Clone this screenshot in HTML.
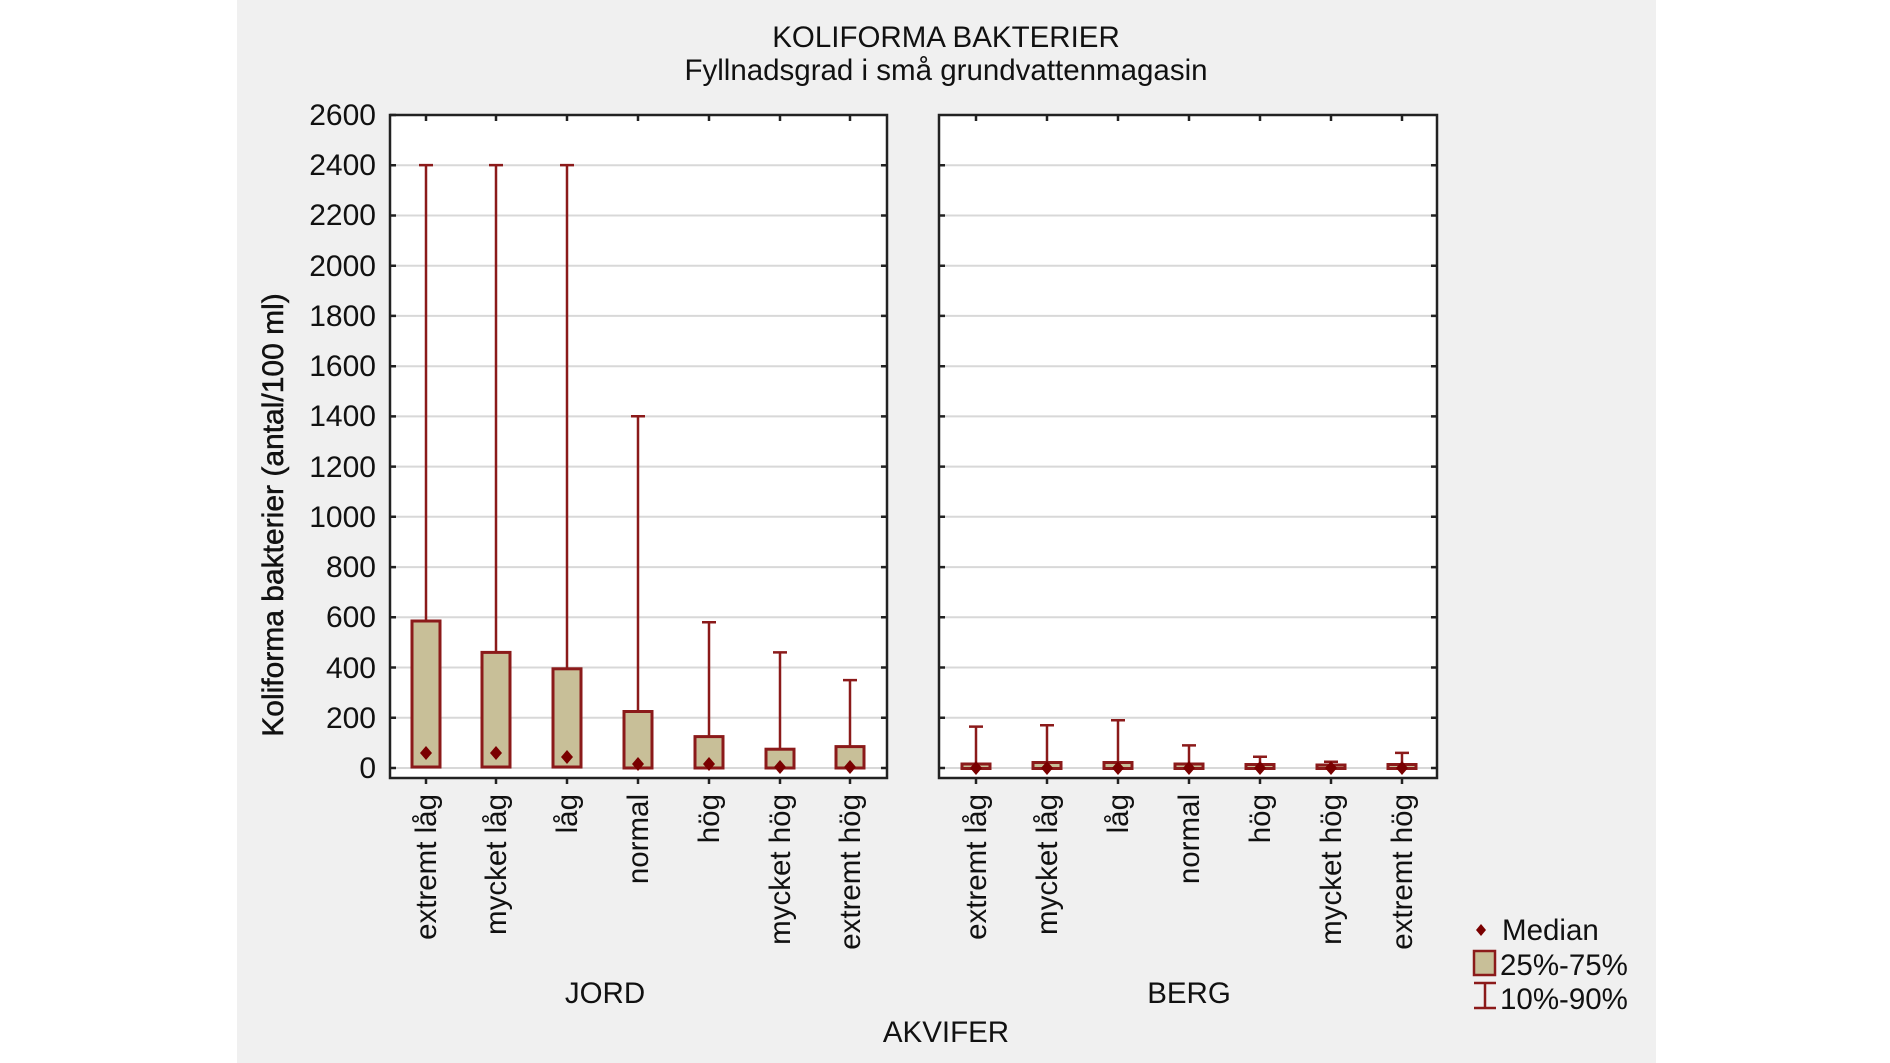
<!DOCTYPE html>
<html><head><meta charset="utf-8"><style>
html,body{margin:0;padding:0;background:#fff;}
svg{display:block;font-family:"Liberation Sans",sans-serif;}
</style></head><body>
<svg width="1890" height="1063" viewBox="0 0 1890 1063" xmlns="http://www.w3.org/2000/svg">
<rect x="0" y="0" width="1890" height="1063" fill="#fff"/>
<rect x="237" y="0" width="1419" height="1063" fill="#f0f0f0"/>
<text x="946" y="47" font-size="29.5" text-anchor="middle" fill="#111">KOLIFORMA BAKTERIER</text>
<text x="946" y="80" font-size="29.5" text-anchor="middle" fill="#111">Fyllnadsgrad i små grundvattenmagasin</text>
<rect x="390" y="115" width="497" height="663" fill="#fff"/>
<rect x="939" y="115" width="498" height="663" fill="#fff"/>
<g stroke="#d8d8d8" stroke-width="2">
<line x1="390" x2="887" y1="768" y2="768"/><line x1="939" x2="1437" y1="768" y2="768"/>
<line x1="390" x2="887" y1="717.8" y2="717.8"/><line x1="939" x2="1437" y1="717.8" y2="717.8"/>
<line x1="390" x2="887" y1="667.5" y2="667.5"/><line x1="939" x2="1437" y1="667.5" y2="667.5"/>
<line x1="390" x2="887" y1="617.3" y2="617.3"/><line x1="939" x2="1437" y1="617.3" y2="617.3"/>
<line x1="390" x2="887" y1="567.1" y2="567.1"/><line x1="939" x2="1437" y1="567.1" y2="567.1"/>
<line x1="390" x2="887" y1="516.8" y2="516.8"/><line x1="939" x2="1437" y1="516.8" y2="516.8"/>
<line x1="390" x2="887" y1="466.6" y2="466.6"/><line x1="939" x2="1437" y1="466.6" y2="466.6"/>
<line x1="390" x2="887" y1="416.4" y2="416.4"/><line x1="939" x2="1437" y1="416.4" y2="416.4"/>
<line x1="390" x2="887" y1="366.2" y2="366.2"/><line x1="939" x2="1437" y1="366.2" y2="366.2"/>
<line x1="390" x2="887" y1="315.9" y2="315.9"/><line x1="939" x2="1437" y1="315.9" y2="315.9"/>
<line x1="390" x2="887" y1="265.7" y2="265.7"/><line x1="939" x2="1437" y1="265.7" y2="265.7"/>
<line x1="390" x2="887" y1="215.5" y2="215.5"/><line x1="939" x2="1437" y1="215.5" y2="215.5"/>
<line x1="390" x2="887" y1="165.2" y2="165.2"/><line x1="939" x2="1437" y1="165.2" y2="165.2"/>
</g>
<g stroke="#222" stroke-width="2.5" fill="none">
<rect x="390" y="115" width="497" height="663"/>
<rect x="939" y="115" width="498" height="663"/>
</g>
<g stroke="#222" stroke-width="2.5">
<path d="M390 768h6M390 717.8h6M390 667.5h6M390 617.3h6M390 567.1h6M390 516.8h6M390 466.6h6M390 416.4h6M390 366.2h6M390 315.9h6M390 265.7h6M390 215.5h6M390 165.2h6M390 115h6"/>
<path d="M887 768h-6M887 717.8h-6M887 667.5h-6M887 617.3h-6M887 567.1h-6M887 516.8h-6M887 466.6h-6M887 416.4h-6M887 366.2h-6M887 315.9h-6M887 265.7h-6M887 215.5h-6M887 165.2h-6"/>
<path d="M939 768h6M939 717.8h6M939 667.5h6M939 617.3h6M939 567.1h6M939 516.8h6M939 466.6h6M939 416.4h6M939 366.2h6M939 315.9h6M939 265.7h6M939 215.5h6M939 165.2h6"/>
<path d="M1437 768h-6M1437 717.8h-6M1437 667.5h-6M1437 617.3h-6M1437 567.1h-6M1437 516.8h-6M1437 466.6h-6M1437 416.4h-6M1437 366.2h-6M1437 315.9h-6M1437 265.7h-6M1437 215.5h-6M1437 165.2h-6"/>
<path d="M426 778v6M496 778v6M567 778v6M638 778v6M709 778v6M780 778v6M850 778v6M976 778v6M1047 778v6M1118 778v6M1189 778v6M1260 778v6M1331 778v6M1402 778v6"/>
<path d="M426 115v6M496 115v6M567 115v6M638 115v6M709 115v6M780 115v6M850 115v6M976 115v6M1047 115v6M1118 115v6M1189 115v6M1260 115v6M1331 115v6M1402 115v6"/>
</g>
<g font-size="30" text-anchor="end" fill="#111">
<text x="376" y="778">0</text><text x="376" y="728">200</text><text x="376" y="678">400</text><text x="376" y="627">600</text><text x="376" y="577">800</text><text x="376" y="527">1000</text><text x="376" y="477">1200</text><text x="376" y="426">1400</text><text x="376" y="376">1600</text><text x="376" y="326">1800</text><text x="376" y="276">2000</text><text x="376" y="225">2200</text><text x="376" y="175">2400</text><text x="376" y="125">2600</text>
</g>
<text transform="translate(283,515) rotate(-90)" font-size="30" text-anchor="middle" fill="#111" stroke="#111" stroke-width="0.5">Koliforma bakterier (antal/100 ml)</text>
<g stroke="#8b1a1a" stroke-width="2.5" fill="none">
<path d="M426 165.1V768M419 165.1h14M496 165.1V768M489 165.1h14M567 165.1V768M560 165.1h14M638 416.3V768M631 416.3h14M709 622.3V768M702 622.3h14M780 652.4V768M773 652.4h14M850 680.1V768M843 680.1h14"/>
<path d="M976 726.6V768M969 726.6h14M1047 725.3V768M1040 725.3h14M1118 720.3V768M1111 720.3h14M1189 745.4V768M1182 745.4h14M1260 756.7V768M1253 756.7h14M1331 761.7V768M1324 761.7h14M1402 752.9V768M1395 752.9h14"/>
</g>
<g fill="#c8bf98" stroke="#8b1a1a" stroke-width="3">
<rect x="412" y="621" width="28" height="146"/>
<rect x="482" y="652.4" width="28" height="114.6"/>
<rect x="553" y="668.8" width="28" height="98.2"/>
<rect x="624" y="711.5" width="28" height="56.5"/>
<rect x="695" y="736.6" width="28" height="31.4"/>
<rect x="766" y="749.2" width="28" height="18.8"/>
<rect x="836" y="746.6" width="28" height="21.4"/>
<rect x="962" y="764" width="28" height="4.5"/>
<rect x="1033" y="762.5" width="28" height="6"/>
<rect x="1104" y="762.5" width="28" height="6"/>
<rect x="1175" y="764" width="28" height="4.5"/>
<rect x="1246" y="764.5" width="28" height="4"/>
<rect x="1317" y="765" width="28" height="3.5"/>
<rect x="1388" y="764.5" width="28" height="4"/>
</g>
<g fill="#7a0000">
<path d="M426 746l6 7-6 7-6-7z"/><path d="M496 746l6 7-6 7-6-7z"/><path d="M567 750l6 7-6 7-6-7z"/><path d="M638 757l6 7-6 7-6-7z"/><path d="M709 757l6 7-6 7-6-7z"/><path d="M780 760l6 7-6 7-6-7z"/><path d="M850 760l6 7-6 7-6-7z"/>
<path d="M976 761l6 7-6 7-6-7z"/><path d="M1047 761l6 7-6 7-6-7z"/><path d="M1118 761l6 7-6 7-6-7z"/><path d="M1189 761l6 7-6 7-6-7z"/><path d="M1260 761l6 7-6 7-6-7z"/><path d="M1331 761l6 7-6 7-6-7z"/><path d="M1402 761l6 7-6 7-6-7z"/>
</g>
<g font-size="29.5" text-anchor="end" fill="#111">
<text transform="translate(436,794) rotate(-90)">extremt låg</text>
<text transform="translate(506,794) rotate(-90)">mycket låg</text>
<text transform="translate(577,794) rotate(-90)">låg</text>
<text transform="translate(648,794) rotate(-90)">normal</text>
<text transform="translate(719,794) rotate(-90)">hög</text>
<text transform="translate(790,794) rotate(-90)">mycket hög</text>
<text transform="translate(860,794) rotate(-90)">extremt hög</text>
<text transform="translate(986,794) rotate(-90)">extremt låg</text>
<text transform="translate(1057,794) rotate(-90)">mycket låg</text>
<text transform="translate(1128,794) rotate(-90)">låg</text>
<text transform="translate(1199,794) rotate(-90)">normal</text>
<text transform="translate(1270,794) rotate(-90)">hög</text>
<text transform="translate(1341,794) rotate(-90)">mycket hög</text>
<text transform="translate(1412,794) rotate(-90)">extremt hög</text>
</g>
<g font-size="29.5" text-anchor="middle" fill="#111">
<text x="605" y="1003">JORD</text>
<text x="1189" y="1003">BERG</text>
<text x="946" y="1042">AKVIFER</text>
</g>
<path d="M1481 924l5 6-5 6-5-6z" fill="#7a0000"/>
<rect x="1474" y="951" width="21" height="24" fill="#c8bf98" stroke="#8b1a1a" stroke-width="2.5"/>
<path d="M1474 983h22M1474 1008h22M1485 983v25" stroke="#8b1a1a" stroke-width="2.5" fill="none"/>
<g font-size="29.5" fill="#111">
<text x="1502" y="940">Median</text>
<text x="1500" y="975">25%-75%</text>
<text x="1500" y="1009">10%-90%</text>
</g>
</svg>
</body></html>
